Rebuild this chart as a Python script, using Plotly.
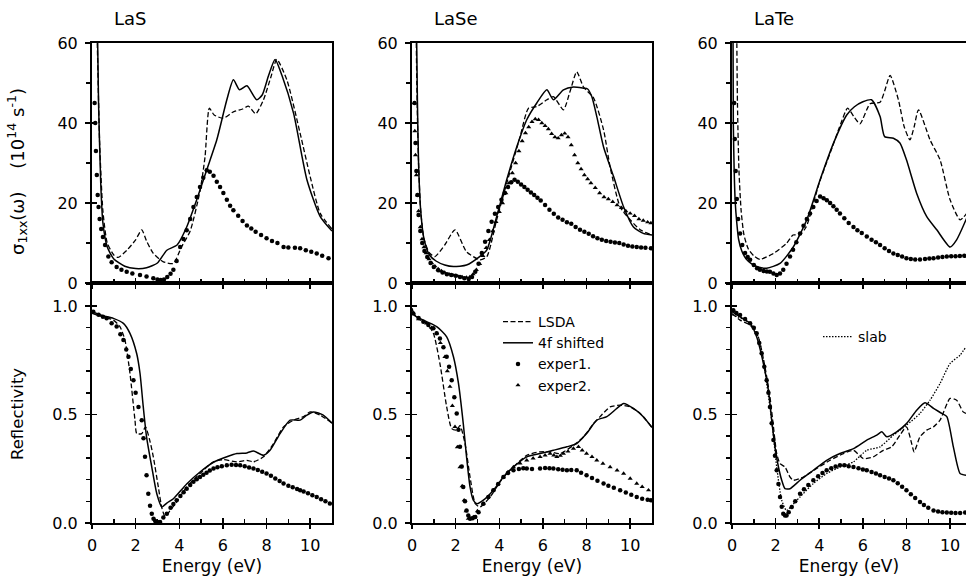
import plotly.graph_objects as go

# ---------------- data ----------------
panel_names = ["LaS", "LaSe", "LaTe"]

# sigma_1xx (10^14 s^-1) -- top row
las_sig_lsda = [(0.18,75),(0.25,58),(0.35,35),(0.5,18),(0.7,10),(1.0,7),(1.2,6.4),(1.6,8.2),(2.0,10.8),(2.28,13.3),(2.5,10.5),(2.81,7.4),(3.27,5.3),(3.73,4.9),(4.1,9),(4.5,13),(4.95,23),(5.18,31.5),(5.38,43.7),(5.6,42.0),(6.02,41.2),(6.48,42.8),(6.9,43.5),(7.17,44.2),(7.5,42.3),(7.86,45.8),(8.2,51.5),(8.47,55.9),(8.93,50.8),(9.54,37.4),(10.0,26.6),(10.46,17.4),(11.0,13.5)]
las_sig_4f = [(0.22,75),(0.3,45),(0.4,25),(0.5,15),(0.7,9),(1.0,6),(1.5,4.2),(2.0,3.6),(2.5,3.8),(3.0,5),(3.43,8.2),(3.9,9.5),(4.34,14),(4.8,20.8),(5.26,28.3),(5.72,35.8),(6.18,45.8),(6.48,50.8),(6.76,48.3),(7.1,49.3),(7.55,45.8),(7.8,47),(8.1,52),(8.39,55.9),(8.7,52),(9.24,42.4),(9.85,25.8),(10.46,16.6),(11.0,13)]
las_sig_exp1 = [(0.12,45),(0.15,40),(0.18,33),(0.22,27),(0.26,22),(0.3,19),(0.35,16),(0.42,13.5),(0.5,11.5),(0.6,9.5),(0.75,6.6),(0.9,5.2),(1.13,4.0),(1.35,3.3),(1.59,2.8),(1.85,2.4),(2.2,2.0),(2.5,1.6),(2.81,1.2),(3.0,0.9),(3.15,0.75),(3.3,0.9),(3.45,1.5),(3.6,2.3),(3.73,3.3),(3.88,5.5),(4.04,9.0),(4.19,11.0),(4.34,13.2),(4.5,16.0),(4.65,19.0),(4.8,21.5),(4.95,24.0),(5.1,26.3),(5.26,28.2),(5.4,27.8),(5.57,26.8),(5.72,25.3),(5.87,24.0),(6.02,22.5),(6.18,20.8),(6.33,19.3),(6.48,18.2),(6.7,16.8),(6.9,15.5),(7.1,14.4),(7.3,13.6),(7.5,12.8),(7.75,12.0),(8.0,11.2),(8.25,10.5),(8.5,10.0),(8.78,9.0),(9.0,8.9),(9.3,8.8),(9.54,8.7),(9.8,8.2),(10.05,7.8),(10.3,7.4),(10.55,6.8),(10.84,6.2)]

lase_sig_lsda = [(0.17,75),(0.22,50),(0.3,30),(0.4,18),(0.55,11),(0.8,7.5),(1.05,6.6),(1.5,9.5),(1.97,13.3),(2.5,7.8),(3.12,5.8),(3.43,6.6),(3.88,15.8),(4.34,24.9),(4.95,36.5),(5.34,43.7),(5.72,44.1),(6.18,45.8),(6.48,46.6),(6.94,43.3),(7.25,48),(7.55,52.8),(7.86,49),(8.32,46.3),(8.78,38.3),(9.08,29),(9.54,19),(10.0,15.8),(10.46,13.3),(11.0,12)]
lase_sig_4f = [(0.18,75),(0.25,45),(0.3,30),(0.4,18),(0.55,11),(0.8,7),(1.1,5.5),(1.5,4.5),(1.9,4.1),(2.5,4.5),(3.1,6.6),(3.43,8.3),(3.88,16.6),(4.34,25.8),(4.8,34),(5.26,40.8),(5.72,45),(6.18,48.3),(6.48,45.8),(6.94,48.3),(7.4,49),(7.86,48.7),(8.05,48.5),(8.24,46.6),(8.47,41.6),(8.78,34),(9.24,26.6),(9.7,19),(10.15,14),(10.6,12.4),(11.0,12)]
lase_sig_exp1 = [(0.12,45),(0.16,35),(0.2,28),(0.25,22),(0.3,17),(0.38,13),(0.47,10),(0.57,8),(0.7,6.5),(0.85,5),(1.0,4),(1.2,3.2),(1.4,2.6),(1.6,2.2),(1.8,2),(2.0,1.8),(2.2,1.5),(2.4,1.2),(2.6,1.0),(2.75,1.5),(2.9,2.8),(3.05,4.8),(3.2,7.5),(3.35,10.3),(3.5,13),(3.65,15.3),(3.8,17.3),(3.95,19),(4.1,20.8),(4.25,22.5),(4.4,24),(4.55,25.2),(4.7,25.8),(4.85,25.3),(5.0,24.6),(5.15,24),(5.3,23.3),(5.45,22.6),(5.6,22),(5.75,21.3),(5.9,20.6),(6.1,19.5),(6.3,18.3),(6.5,17.3),(6.7,16.4),(6.9,15.8),(7.1,15.2),(7.3,14.8),(7.5,14),(7.7,13.3),(7.9,12.8),(8.1,12.3),(8.3,11.7),(8.5,11.2),(8.7,10.8),(8.9,10.5),(9.1,10.3),(9.3,10.1),(9.5,10),(9.7,9.6),(9.9,9.3),(10.1,9.1),(10.3,9),(10.5,8.9),(10.7,8.8),(10.95,8.7)]
lase_sig_exp2 = [(0.1,45),(0.13,38),(0.16,32),(0.2,27),(0.25,22),(0.3,18),(0.38,14),(0.46,11),(0.55,9),(0.65,7.5),(0.78,6),(0.9,5),(1.05,4.2),(1.2,3.5),(1.35,3),(1.5,2.6),(1.7,2.2),(1.9,1.9),(2.1,1.7),(2.3,1.5),(2.5,1.4),(2.65,1.5),(2.8,2.2),(2.95,3.3),(3.1,4.8),(3.25,6.8),(3.4,8.8),(3.55,10.8),(3.7,13),(3.85,15.3),(4.0,17.8),(4.15,20),(4.3,22.5),(4.45,25),(4.6,27.5),(4.75,30),(4.9,33),(5.05,35.5),(5.2,37.5),(5.35,39),(5.5,40.3),(5.65,41),(5.8,40.8),(5.95,40),(6.1,39.3),(6.25,38.5),(6.4,37.3),(6.55,36.5),(6.7,36.2),(6.85,37),(7.0,37.4),(7.15,36.5),(7.3,34.5),(7.45,32),(7.6,30),(7.75,28.5),(7.9,27),(8.05,26),(8.2,25),(8.4,23.8),(8.6,22.5),(8.8,21.5),(9.0,21),(9.2,20.3),(9.4,19.5),(9.6,18.8),(9.8,18),(10.0,17.4),(10.2,16.8),(10.4,16),(10.6,15.6),(10.8,15.2),(10.95,15)]

late_sig_lsda = [(0.2,75),(0.25,45),(0.32,28),(0.42,18),(0.55,12),(0.75,8.5),(1.0,6.8),(1.28,5.9),(1.9,7.4),(2.5,9.9),(2.8,12),(3.1,12),(3.4,14),(4.0,25),(4.6,34),(5.0,40),(5.3,43.7),(5.6,41.5),(5.87,39.8),(6.33,44.8),(6.79,45.2),(7.0,48),(7.25,51.9),(7.63,45.8),(7.9,39),(8.16,35.8),(8.35,39),(8.55,43.3),(9.08,35.8),(9.54,30.8),(10.0,20.8),(10.46,15.8),(10.76,17.4)]
late_sig_4f = [(0.04,75),(0.06,40),(0.1,28),(0.15,20),(0.22,15),(0.3,11),(0.45,8),(0.65,6),(0.9,4.8),(1.2,4),(1.59,3.7),(2.2,4.9),(2.81,9),(3.43,15.8),(4.04,25.8),(4.65,34.9),(5.26,42.0),(5.6,44.0),(6.0,45.3),(6.4,45.8),(6.79,41.6),(7.0,36.6),(7.4,36.2),(7.7,35),(8.0,30.8),(8.47,22.4),(8.93,16.6),(9.39,13.3),(10.0,9),(10.3,10.8),(10.76,16.2)]
late_sig_exp1 = [(0.1,45),(0.13,36),(0.17,28),(0.22,21),(0.28,16),(0.37,12.4),(0.47,9.5),(0.6,7.5),(0.72,6.5),(0.83,5.8),(1.0,4.5),(1.15,3.7),(1.28,3.3),(1.45,3),(1.6,2.9),(1.74,2.8),(1.9,2.4),(2.05,2),(2.2,2.4),(2.35,3.3),(2.5,4.8),(2.66,6.6),(2.8,8.3),(2.95,10.2),(3.12,12.4),(3.28,14.3),(3.43,16),(3.58,17.4),(3.73,19),(3.88,20.5),(4.04,21.6),(4.2,21.2),(4.35,20.7),(4.5,20),(4.65,19.2),(4.8,18.3),(4.95,17.4),(5.15,16.2),(5.35,15),(5.57,14),(5.75,13.2),(5.95,12.5),(6.18,11.6),(6.4,10.8),(6.6,10.2),(6.79,9.5),(7.0,8.7),(7.2,8),(7.4,7.4),(7.6,7),(7.8,6.6),(8.0,6.2),(8.2,6),(8.4,5.9),(8.62,5.9),(8.85,6),(9.05,6.1),(9.24,6.2),(9.45,6.4),(9.65,6.5),(9.85,6.6),(10.05,6.7),(10.25,6.7),(10.45,6.75),(10.65,6.8)]

# Reflectivity -- bottom row
las_ref_lsda = [(0.0,0.966),(0.5,0.95),(0.98,0.935),(1.28,0.905),(1.51,0.843),(1.74,0.69),(1.97,0.474),(2.05,0.412),(2.28,0.412),(2.45,0.443),(2.65,0.38),(2.81,0.305),(3.04,0.166),(3.2,0.07),(3.35,0.03),(3.6,0.06),(3.88,0.097),(4.34,0.166),(4.95,0.228),(5.57,0.282),(6.02,0.292),(6.64,0.282),(7.1,0.289),(7.4,0.282),(7.86,0.305),(8.32,0.366),(8.78,0.443),(9.24,0.474),(9.7,0.49),(10.0,0.512),(10.46,0.497),(11.0,0.46)]
las_ref_4f = [(0.0,0.974),(0.5,0.955),(0.98,0.943),(1.44,0.92),(1.74,0.874),(2.05,0.78),(2.2,0.69),(2.35,0.535),(2.5,0.397),(2.74,0.258),(2.97,0.135),(3.2,0.074),(3.43,0.092),(3.73,0.112),(4.34,0.18),(4.95,0.235),(5.57,0.28),(6.18,0.305),(6.64,0.32),(7.1,0.323),(7.4,0.332),(7.86,0.312),(8.16,0.335),(8.62,0.412),(9.08,0.474),(9.54,0.474),(9.85,0.497),(10.15,0.512),(10.6,0.497),(11.0,0.46)]
las_ref_exp1 = [(0.06,0.974),(0.3,0.96),(0.5,0.95),(0.67,0.943),(0.9,0.92),(1.13,0.905),(1.3,0.87),(1.44,0.843),(1.57,0.8),(1.67,0.766),(1.78,0.71),(1.9,0.658),(2.0,0.6),(2.13,0.535),(2.28,0.474),(2.36,0.39),(2.43,0.305),(2.5,0.22),(2.58,0.135),(2.66,0.08),(2.74,0.043),(2.82,0.02),(2.9,0.009),(3.0,0.005),(3.12,0.005),(3.27,0.025),(3.43,0.043),(3.6,0.07),(3.73,0.088),(3.88,0.105),(4.05,0.125),(4.2,0.142),(4.34,0.158),(4.5,0.175),(4.65,0.19),(4.8,0.202),(4.95,0.212),(5.1,0.222),(5.25,0.232),(5.4,0.242),(5.57,0.251),(5.75,0.257),(5.95,0.262),(6.18,0.266),(6.4,0.268),(6.6,0.267),(6.79,0.266),(7.0,0.262),(7.2,0.256),(7.4,0.251),(7.6,0.244),(7.8,0.236),(8.0,0.228),(8.2,0.218),(8.4,0.205),(8.6,0.193),(8.78,0.182),(9.0,0.172),(9.2,0.165),(9.4,0.157),(9.54,0.151),(9.7,0.145),(9.9,0.137),(10.1,0.128),(10.3,0.12),(10.5,0.11),(10.7,0.1),(10.9,0.09)]

lase_ref_lsda = [(0.0,0.97),(0.3,0.94),(0.67,0.92),(0.98,0.874),(1.28,0.735),(1.59,0.535),(1.82,0.435),(2.05,0.428),(2.2,0.45),(2.43,0.366),(2.66,0.212),(2.9,0.089),(3.12,0.074),(3.58,0.12),(4.19,0.212),(4.65,0.258),(5.26,0.312),(5.87,0.328),(6.33,0.328),(6.79,0.32),(7.4,0.358),(7.86,0.397),(8.32,0.458),(8.62,0.49),(9.08,0.535),(9.54,0.543),(10.0,0.535),(10.46,0.505),(11.0,0.44)]
lase_ref_4f = [(0.0,0.99),(0.1,0.96),(0.21,0.95),(0.67,0.928),(1.13,0.905),(1.59,0.858),(1.9,0.766),(2.13,0.643),(2.35,0.458),(2.5,0.305),(2.66,0.166),(2.81,0.105),(2.97,0.089),(3.27,0.105),(3.73,0.151),(4.19,0.212),(4.65,0.258),(5.26,0.305),(5.87,0.32),(6.48,0.335),(7.1,0.351),(7.55,0.366),(8.0,0.412),(8.47,0.474),(8.93,0.49),(9.39,0.528),(9.7,0.551),(10.15,0.528),(10.6,0.49),(11.0,0.44)]
lase_ref_exp1 = [(0.06,0.966),(0.3,0.945),(0.52,0.928),(0.75,0.912),(0.98,0.897),(1.13,0.875),(1.28,0.85),(1.44,0.81),(1.59,0.766),(1.7,0.72),(1.82,0.658),(1.94,0.58),(2.05,0.505),(2.13,0.43),(2.2,0.351),(2.28,0.26),(2.35,0.166),(2.43,0.1),(2.5,0.058),(2.58,0.035),(2.66,0.02),(2.78,0.022),(2.9,0.028),(3.05,0.05),(3.27,0.089),(3.5,0.12),(3.73,0.151),(3.95,0.18),(4.19,0.212),(4.4,0.23),(4.65,0.243),(4.9,0.249),(5.1,0.252),(5.26,0.251),(5.5,0.249),(5.87,0.251),(6.1,0.253),(6.3,0.252),(6.48,0.251),(6.7,0.248),(6.9,0.245),(7.1,0.243),(7.3,0.244),(7.55,0.243),(7.75,0.232),(8.0,0.22),(8.25,0.207),(8.5,0.195),(8.78,0.182),(9.0,0.172),(9.25,0.162),(9.54,0.151),(9.8,0.14),(10.05,0.13),(10.3,0.12),(10.55,0.112),(10.8,0.107),(10.95,0.105)]
lase_ref_exp2 = [(0.06,0.966),(0.3,0.94),(0.67,0.92),(0.9,0.9),(1.13,0.874),(1.3,0.83),(1.51,0.766),(1.62,0.7),(1.74,0.628),(1.85,0.54),(1.97,0.443),(2.08,0.35),(2.2,0.258),(2.3,0.17),(2.39,0.105),(2.48,0.055),(2.58,0.02),(2.7,0.022),(2.81,0.028),(3.0,0.055),(3.27,0.089),(3.5,0.12),(3.73,0.151),(3.95,0.18),(4.19,0.212),(4.4,0.235),(4.65,0.258),(4.95,0.275),(5.26,0.289),(5.55,0.298),(5.87,0.305),(6.1,0.312),(6.33,0.32),(6.5,0.312),(6.64,0.305),(6.8,0.31),(6.94,0.32),(7.15,0.33),(7.4,0.343),(7.63,0.351),(7.8,0.335),(8.0,0.32),(8.25,0.305),(8.47,0.289),(8.75,0.274),(9.08,0.258),(9.4,0.243),(9.7,0.228),(10.0,0.205),(10.3,0.182),(10.55,0.167),(10.84,0.151)]

late_ref_lsda = [(0.0,0.966),(0.37,0.935),(0.83,0.912),(1.2,0.858),(1.51,0.72),(1.74,0.582),(1.9,0.443),(2.05,0.32),(2.2,0.274),(2.43,0.258),(2.66,0.212),(2.81,0.197),(3.27,0.212),(3.88,0.251),(4.5,0.289),(5.11,0.32),(5.57,0.335),(6.02,0.297),(6.48,0.305),(6.94,0.335),(7.32,0.351),(7.7,0.405),(8.0,0.443),(8.24,0.366),(8.35,0.328),(8.62,0.397),(8.93,0.428),(9.24,0.443),(9.54,0.474),(10.0,0.574),(10.3,0.566),(10.6,0.512),(10.73,0.505)]
late_ref_4f = [(0.0,0.974),(0.37,0.95),(0.83,0.92),(1.13,0.858),(1.44,0.735),(1.67,0.612),(1.82,0.474),(1.97,0.351),(2.13,0.258),(2.28,0.197),(2.43,0.158),(2.66,0.158),(3.12,0.197),(3.73,0.243),(4.34,0.289),(4.95,0.32),(5.57,0.343),(6.18,0.382),(6.64,0.405),(6.87,0.42),(7.1,0.397),(7.55,0.42),(8.0,0.458),(8.47,0.52),(8.85,0.554),(9.24,0.528),(9.62,0.505),(9.85,0.49),(10.15,0.351),(10.46,0.228),(10.73,0.22)]
late_ref_slab = [(0.0,0.96),(0.5,0.94),(0.9,0.915),(1.2,0.86),(1.44,0.75),(1.65,0.6),(1.82,0.474),(2.05,0.258),(2.28,0.105),(2.5,0.058),(2.97,0.105),(3.12,0.12),(3.73,0.182),(4.34,0.228),(4.95,0.258),(5.57,0.282),(6.18,0.335),(6.79,0.351),(7.4,0.405),(8.0,0.451),(8.62,0.505),(9.08,0.566),(9.54,0.643),(10.0,0.735),(10.46,0.774),(10.73,0.812)]
late_ref_exp1 = [(0.06,0.98),(0.2,0.968),(0.37,0.958),(0.6,0.94),(0.83,0.92),(1.0,0.9),(1.13,0.874),(1.25,0.83),(1.36,0.782),(1.48,0.72),(1.59,0.658),(1.67,0.6),(1.74,0.535),(1.82,0.46),(1.9,0.382),(1.97,0.31),(2.05,0.243),(2.13,0.18),(2.2,0.12),(2.28,0.075),(2.35,0.043),(2.43,0.035),(2.5,0.035),(2.6,0.05),(2.74,0.074),(2.9,0.1),(3.12,0.135),(3.3,0.155),(3.5,0.175),(3.73,0.197),(3.95,0.215),(4.15,0.23),(4.34,0.243),(4.55,0.252),(4.75,0.26),(4.95,0.266),(5.15,0.266),(5.35,0.262),(5.57,0.258),(5.8,0.252),(6.0,0.247),(6.18,0.243),(6.4,0.235),(6.6,0.228),(6.79,0.22),(7.0,0.212),(7.2,0.205),(7.4,0.197),(7.6,0.183),(7.8,0.167),(8.0,0.151),(8.2,0.133),(8.4,0.115),(8.62,0.097),(8.8,0.083),(9.0,0.07),(9.24,0.058),(9.45,0.053),(9.65,0.05),(9.85,0.048),(10.05,0.047),(10.25,0.046),(10.46,0.046),(10.69,0.048)]

x_ranges = [[0, 11], [0, 11], [0, 10.73]]
x_tickvals = [0, 2, 4, 6, 8, 10]
sig_range = [0, 60]
ref_range = [0, 1.106]

# ---------------- figure ----------------
FONT = "DejaVu Sans, Liberation Sans, Arial, sans-serif"
fig = go.Figure()

def unzip(pairs):
    return [p[0] for p in pairs], [p[1] for p in pairs]

def add_line(pairs, ax, kind, name, show=False, legend="legend"):
    x, y = unzip(pairs)
    styles = {
        "lsda": dict(color="black", width=1.3, dash="5px,2.5px"),
        "4f": dict(color="black", width=1.5),
        "slab": dict(color="black", width=1.3, dash="1.5px,1.5px"),
    }
    fig.add_trace(go.Scatter(x=x, y=y, mode="lines", name=name,
                             line=dict(shape="spline", smoothing=0.6, **styles[kind]),
                             xaxis="x" + ax, yaxis="y" + ax,
                             showlegend=show, legend=legend, hoverinfo="skip"))

def add_dots(pairs, ax, symbol, name, show=False):
    x, y = unzip(pairs)
    fig.add_trace(go.Scatter(x=x, y=y, mode="markers", name=name,
                             marker=dict(symbol=symbol, size=4.5,
                                         color="black", line=dict(width=0)),
                             xaxis="x" + ax, yaxis="y" + ax,
                             showlegend=show, hoverinfo="skip"))

# top row
add_line(las_sig_lsda, "", "lsda", "LSDA")
add_line(las_sig_4f, "", "4f", "4f shifted")
add_dots(las_sig_exp1, "", "circle", "exper1.")
add_line(lase_sig_lsda, "2", "lsda", "LSDA")
add_line(lase_sig_4f, "2", "4f", "4f shifted")
add_dots(lase_sig_exp1, "2", "circle", "exper1.")
add_dots(lase_sig_exp2, "2", "triangle-up", "exper2.")
add_line(late_sig_lsda, "3", "lsda", "LSDA")
add_line(late_sig_4f, "3", "4f", "4f shifted")
add_dots(late_sig_exp1, "3", "circle", "exper1.")
# bottom row
add_line(las_ref_lsda, "4", "lsda", "LSDA")
add_line(las_ref_4f, "4", "4f", "4f shifted")
add_dots(las_ref_exp1, "4", "circle", "exper1.")
add_line(lase_ref_lsda, "5", "lsda", "LSDA", show=True)
add_line(lase_ref_4f, "5", "4f", "4f shifted", show=True)
add_dots(lase_ref_exp1, "5", "circle", "exper1.", show=True)
add_dots(lase_ref_exp2, "5", "triangle-up", "exper2.", show=True)
add_line(late_ref_lsda, "6", "lsda", "LSDA")
add_line(late_ref_4f, "6", "4f", "4f shifted")
add_line(late_ref_slab, "6", "slab", "slab", show=True, legend="legend2")
add_dots(late_ref_exp1, "6", "circle", "exper1.")

# layout geometry
W, H = 966, 584
ML, MR, MT, MB = 92, 0, 43, 61
PW = W - ML - MR
PH = H - MT - MB
xdom = [[0, 240 / PW], [320 / PW, 560 / PW], [640 / PW, 1.0]]
ydom = [[0.5, 1.0], [0.0, 0.5]]

tickfont = dict(family=FONT, size=16, color="black")
legfont = dict(family=FONT, size=14, color="black")
layout = dict(
    template="none",
    width=W, height=H,
    margin=dict(l=ML, r=MR, t=MT, b=MB, autoexpand=False),
    paper_bgcolor="white", plot_bgcolor="white",
    font=dict(family=FONT, color="black"),
    showlegend=True,
    legend=dict(x=(498 - ML) / PW, y=(523 - 306) / PH, xanchor="left", yanchor="top",
                bgcolor="rgba(0,0,0,0)", font=legfont, tracegroupgap=0, itemwidth=30),
    legend2=dict(x=(818 - ML) / PW, y=(523 - 321) / PH, xanchor="left", yanchor="top",
                 bgcolor="rgba(0,0,0,0)", font=legfont, itemwidth=30),
)

def axname(prefix, n):
    return prefix + ("" if n == 1 else str(n))

for row in range(2):
    for col in range(3):
        n = row * 3 + col + 1
        ov = n + 6
        bottom = row == 1
        yr = sig_range if row == 0 else ref_range
        ymaj, ymin = (20, 10) if row == 0 else (0.5, 0.1)
        ysuf = "" if n == 1 else str(n)
        # primary x axis: line + inside ticks (+ labels on bottom row)
        xp = dict(
            domain=xdom[col], anchor="y" + ysuf, range=x_ranges[col], automargin=False,
            showline=True, linewidth=2, linecolor="black", mirror=True,
            ticks="inside", ticklen=5, tickwidth=1.5, tickcolor="black",
            tickmode="array", tickvals=x_tickvals, showticklabels=bottom,
            tickfont=tickfont, ticklabelstandoff=7, ticklabeloverflow="allow",
            minor=dict(ticks="inside", dtick=1, tick0=0, ticklen=4, tickwidth=1.5, tickcolor="black"),
            showgrid=False, zeroline=False, fixedrange=True)
        if bottom:
            xp["title"] = dict(text="Energy (eV)", font=dict(family=FONT, size=17, color="black"), standoff=6)
        layout[axname("xaxis", n)] = xp
        # overlay x axis: outside major ticks
        layout["xaxis%d" % ov] = dict(
            overlaying="x" + ysuf, anchor="y" + ysuf, automargin=False,
            domain=xdom[col], range=x_ranges[col], side="bottom",
            showline=False, ticks="outside", ticklen=5, tickwidth=1.5, tickcolor="black",
            tickmode="array", tickvals=x_tickvals, showticklabels=False,
            showgrid=False, zeroline=False, fixedrange=True)
        # primary y axis: outside ticks + labels
        layout[axname("yaxis", n)] = dict(
            domain=ydom[row], anchor="x" + ysuf, range=yr, automargin=False,
            showline=True, linewidth=2, linecolor="black", mirror=(col != 2),
            ticks="outside", ticklen=5, tickwidth=1.5, tickcolor="black",
            tick0=0, dtick=ymaj, tickfont=tickfont, ticklabelstandoff=4,
            ticklabeloverflow="allow",
            tickformat="d" if row == 0 else ".1f",
            minor=dict(ticks="outside", dtick=ymin, tick0=0, ticklen=4, tickwidth=1.5, tickcolor="black"),
            showgrid=False, zeroline=False, fixedrange=True)
        # overlay y axis: inside major ticks
        layout["yaxis%d" % ov] = dict(
            overlaying="y" + ysuf, anchor="x" + ysuf, automargin=False,
            domain=ydom[row], range=yr, side="left",
            showline=False, ticks="inside", ticklen=5, tickwidth=1.5, tickcolor="black",
            tick0=0, dtick=ymaj, showticklabels=False,
            showgrid=False, zeroline=False, fixedrange=True)
        fig.add_trace(go.Scatter(x=[None], y=[None], xaxis="x%d" % ov, yaxis="y%d" % ov,
                                 showlegend=False, hoverinfo="skip"))

annotations = []
for col, name in enumerate(panel_names):
    annotations.append(dict(text=name, xref="paper", yref="paper",
                            x=xdom[col][0] + 20 / PW, y=1.0, yshift=25,
                            xanchor="left", yanchor="middle", showarrow=False,
                            font=dict(family=FONT, size=18, color="black")))
annotations.append(dict(text="σ<sub>1xx</sub>(ω)\u00a0\u00a0\u00a0\u00a0(10<sup>14</sup> s<sup>-1</sup>)",
                        xref="paper", yref="paper", x=0, xshift=-75, y=(523 - 172) / PH,
                        textangle=-90, showarrow=False, xanchor="center", yanchor="middle",
                        font=dict(family=FONT, size=18, color="black")))
annotations.append(dict(text="Reflectivity", xref="paper", yref="paper", x=0, xshift=-75,
                        y=(523 - 414) / PH, textangle=-90, showarrow=False,
                        xanchor="center", yanchor="middle",
                        font=dict(family=FONT, size=16.5, color="black")))
layout["annotations"] = annotations

fig.update_layout(**layout)
fig.write_html("out.html", config={"displayModeBar": False, "staticPlot": True},
               post_script="document.body.style.margin='0';document.body.style.overflow='hidden';")
